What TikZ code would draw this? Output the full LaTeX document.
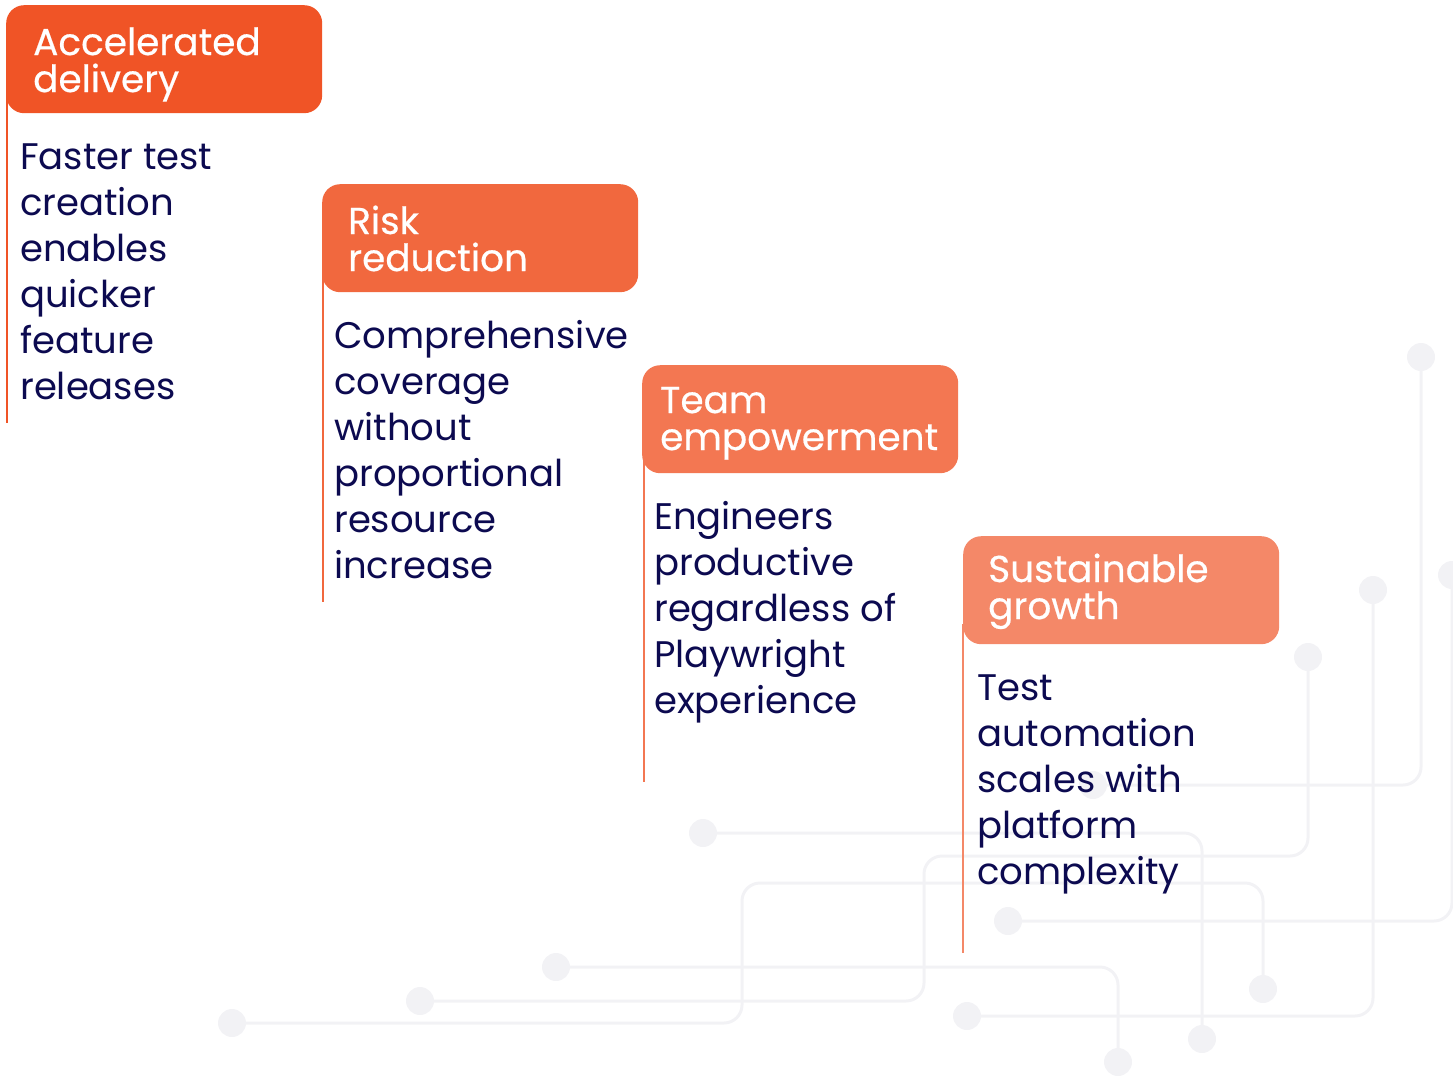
\documentclass[tikz,border=0pt]{standalone}
\usepackage{fontspec}
\setmainfont{Poppins}
\newfontfamily\headfont[FakeBold=0.5]{Poppins}
\usepackage{xcolor}
\usetikzlibrary{positioning,calc}

\definecolor{accA}{RGB}{240,84,38}
\definecolor{accB}{RGB}{241,104,62}
\definecolor{accC}{RGB}{243,119,82}
\definecolor{accD}{RGB}{244,136,104}
\definecolor{navy}{RGB}{12,10,80}
\definecolor{trace}{RGB}{242,242,245}

\tikzset{
  headbox/.style={anchor=north west, rounded corners=18pt, minimum width=316pt, minimum height=108pt, inner sep=0pt},
  headtext/.style={anchor=base west, align=left, inner sep=0pt, text=white, font=\headfont\fontsize{37.4}{37}\selectfont},
  bodytext/.style={anchor=base west, align=left, inner sep=0pt, text=navy, font=\fontsize{37}{46}\selectfont},
  stem/.style={line width=2pt},
  trace/.style={draw=trace, line width=3pt, rounded corners=18pt},
  pad/.style={circle, fill=trace, minimum size=28pt, inner sep=0pt}
}

\begin{document}
\begin{tikzpicture}[x=1pt, y=-1pt]
    \useasboundingbox (0,0) rectangle (1453,1076);

    % Background traces
    \foreach \n/\x/\y in {A1/703/833, A2/1202/1039, B1/1093/785, B2/1421/357,
        C1/1308/657, C2/420/1001, D1/232/1023, D2/1263/989, E1/556/967,
        E2/1118/1062, F1/1008/921, F2/1452/575, G1/967/1016, G2/1373/590}
        \node[pad] (pad\n) at (\x,\y) {};
    \draw[trace] (padA1) -| (padA2);
    \draw[trace] (padB1) -| (padB2);
    \draw[trace] (padC1) |- (924,856) |- (padC2);
    \draw[trace] (padD1) -| (742,883) -| (padD2);
    \draw[trace] (padE1) -| (padE2);
    \draw[trace] (padF1) -| (padF2);
    \draw[trace] (padG1) -| (padG2);

    % Steps
    \node[headbox, fill=accA] (accel) at (6,5) {};
    \node[headbox, fill=accB] (risk) at (322,184) {};
    \node[headbox, fill=accC] (team) at (642,365) {};
    \node[headbox, fill=accD] (growth) at (963,536) {};

    % (base = last line)
    \node[headtext] (accelT) at (33,92) {Accelerated\\delivery};
    \node[headtext] (riskT) at (348,271) {Risk\\reduction};
    \node[headtext] (teamT) at (660,450) {Team\\empowerment};
    \node[headtext] (growthT) at (988,619) {Sustainable\\growth};

    % Stems
    \coordinate (accelE) at (7,423);
    \coordinate (riskE) at (323,602);
    \coordinate (teamE) at (644,782);
    \coordinate (growthE) at (963,953);
    \draw[stem, accA] (accel.south west) ++(1,-20) -- (accelE);
    \draw[stem, accB] (risk.south west) ++(1,-20) -- (riskE);
    \draw[stem, accC] (team.south west) ++(2,-20) -- (teamE);
    \draw[stem, accD] (growth.south west) ++(0,-20) -- (growthE);

    % Descriptions
    \node[bodytext] (accelD) at (20,399) {Faster test\\creation\\enables\\quicker\\feature\\releases};
    \node[bodytext] (riskD) at (334,578) {Comprehensive\\coverage\\without\\proportional\\resource\\increase};
    \node[bodytext] (teamD) at (654,713) {Engineers\\productive\\regardless of\\Playwright\\experience};
    \node[bodytext] (growthD) at (977,884) {Test\\automation\\scales with\\platform\\complexity};
\end{tikzpicture}
\end{document}
